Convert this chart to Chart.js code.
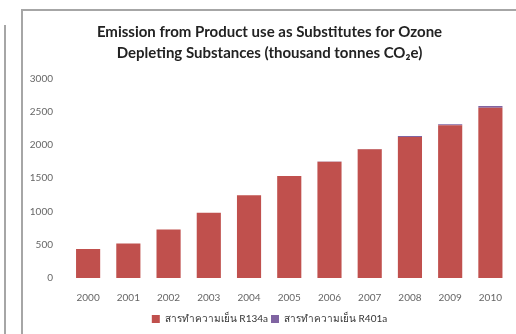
<!DOCTYPE html>
<html>
<head>
<meta charset="utf-8">
<script src="https://cdn.jsdelivr.net/npm/chart.js@4.4.1/dist/chart.umd.min.js"></script>
<style>
  html, body { margin: 0; padding: 0; background: #fff; overflow: hidden; }
  body { width: 516px; height: 334px; position: relative; }
  .sideLine { position: absolute; left: 4px; top: 25px; width: 1px; height: 320px; border-left: 2px solid #a6a6a6; }
  .frame { position: absolute; left: 21px; top: 9px; width: 520px; height: 340px; border-left: 2px solid #a6a6a6; border-top: 2px solid #a6a6a6; }
  #wrap { position: absolute; left: 23px; top: 11px; width: 493px; height: 323px; }
</style>
</head>
<body>
<div class="sideLine"></div>
<div class="frame"></div>
<div id="wrap"><canvas id="emissionChart"></canvas></div>
<script>
const years = ["2000", "2001", "2002", "2003", "2004", "2005", "2006", "2007", "2008", "2009", "2010"];
const r134a = [437, 517, 728, 980, 1246, 1532, 1749, 1935, 2122, 2297, 2562];
const r401a = [0, 0, 0, 0, 0, 0, 2, 5, 12, 15, 25];
const seriesLabels = ["สารทำความเย็น R134a", "สารทำความเย็น R401a"];
const titleLines = ["Emission from Product use as Substitutes for Ozone", "Depleting Substances (thousand tonnes CO₂e)"];

const FONT = "Lato, 'Open Sans', 'Noto Sans', sans-serif";

new Chart(document.getElementById("emissionChart"), {
    type: "bar",
    data: {
        labels: years,
        datasets: [
            { label: seriesLabels[0], data: r134a, backgroundColor: "#c0504d", categoryPercentage: 1, barPercentage: 0.6 },
            { label: seriesLabels[1], data: r401a, backgroundColor: "#8064a2", categoryPercentage: 1, barPercentage: 0.6 }
        ]
    },
    options: {
        responsive: true,
        maintainAspectRatio: false,
        animation: false,
        layout: { padding: { left: 0, right: 0, top: 10, bottom: 0 } },
        scales: {
            x: {
                stacked: true,
                grid: { display: false, drawTicks: false },
                border: { display: false },
                ticks: { color: "#666", font: { family: FONT, size: 10 }, padding: 14, maxRotation: 0 },
                afterFit: scale => { scale.height = 33; }
            },
            y: {
                stacked: true,
                min: 0,
                max: 3000,
                grid: { display: false, drawTicks: false },
                border: { display: false },
                ticks: { stepSize: 500, color: "#666", font: { family: FONT, size: 10 }, padding: 15, callback: v => String(v) },
                afterFit: scale => { scale.width = 45; }
            }
        },
        plugins: {
            title: {
                display: true,
                text: titleLines,
                color: "#222",
                font: { family: FONT, size: 15, weight: "bold", lineHeight: 1.45 },
                padding: { top: 0, bottom: 14 }
            },
            legend: {
                position: "bottom",
                labels: { boxWidth: 8, boxHeight: 8, color: "#333", font: { family: FONT, size: 10 }, padding: 3 }
            },
            tooltip: { enabled: false }
        }
    }
});
</script>
</body>
</html>
